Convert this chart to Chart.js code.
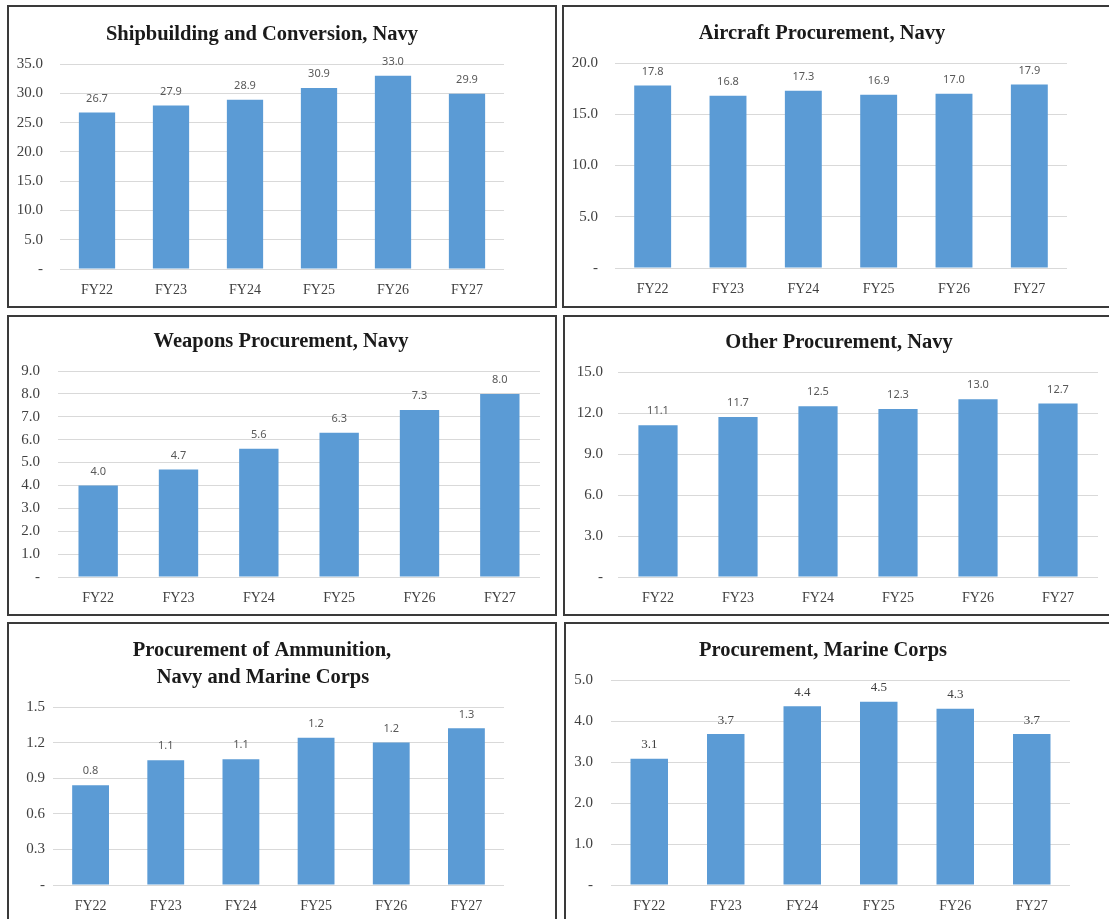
<!DOCTYPE html>
<html>
<head>
<meta charset="utf-8">
<script src="https://cdn.jsdelivr.net/npm/chart.js@4.4.0/dist/chart.umd.min.js"></script>
<style>
  html, body { margin: 0; padding: 0; background: #fff; }
  body { width: 1109px; height: 919px; overflow: hidden; position: relative; }
  .box { position: absolute; box-sizing: border-box; border: 2px solid #3a3a3a; background: #fff; }
  .box canvas { display: block; }
</style>
</head>
<body>
<div class="box" id="b1" style="left:7px;top:5px;width:550px;height:303px"><canvas id="c1" width="546" height="299"></canvas></div>
<div class="box" id="b2" style="left:562px;top:5px;width:560px;height:303px"><canvas id="c2" width="556" height="299"></canvas></div>
<div class="box" id="b3" style="left:7px;top:315px;width:550px;height:301px"><canvas id="c3" width="546" height="297"></canvas></div>
<div class="box" id="b4" style="left:563px;top:315px;width:560px;height:301px"><canvas id="c4" width="556" height="297"></canvas></div>
<div class="box" id="b5" style="left:7px;top:622px;width:550px;height:310px"><canvas id="c5" width="546" height="306"></canvas></div>
<div class="box" id="b6" style="left:564px;top:622px;width:560px;height:310px"><canvas id="c6" width="556" height="306"></canvas></div>
<script>
// fiscal years
const years = ['FY22', 'FY23', 'FY24', 'FY25', 'FY26', 'FY27'];

// $ billions
const shipbuilding = [26.7, 27.9, 28.9, 30.9, 33.0, 29.9];
const aircraft = [17.8, 16.8, 17.3, 16.9, 17.0, 17.9];
const weapons = [4.0, 4.7, 5.6, 6.3, 7.3, 8.0];
const otherProc = [11.1, 11.7, 12.5, 12.3, 13.0, 12.7];
const ammunition = [0.84, 1.051, 1.06, 1.24, 1.20, 1.32];
const marineCorps = [3.08, 3.68, 4.36, 4.47, 4.30, 3.68];

const titles = [
  ['Shipbuilding and Conversion, Navy'],
  ['Aircraft Procurement, Navy'],
  ['Weapons Procurement, Navy'],
  ['Other Procurement, Navy'],
  ['Procurement of Ammunition,', 'Navy and Marine Corps'],
  ['Procurement, Marine Corps']
];
const yMax = [35, 20, 9, 15, 1.5, 5];
const yStep = [5, 5, 1, 3, 0.3, 1];

const BLUE = '#5b9bd5';
const SERIF = '"Liberation Serif", "Times New Roman", serif';

// layout of each panel inside its canvas
const panels = [
  { id: 'c1', data: shipbuilding, area: [51, 495, 57, 262], tickPad: 17, title: [[253, 28]], lbl: 'sans' },
  { id: 'c2', data: aircraft, area: [51, 503, 56, 261], tickPad: 17, title: [[258, 27]], lbl: 'sans' },
  { id: 'c3', data: weapons, area: [49, 531, 54, 260], tickPad: 18, title: [[272, 25]], lbl: 'sans' },
  { id: 'c4', data: otherProc, area: [53, 533, 55, 260], tickPad: 15, title: [[274, 26]], lbl: 'sans' },
  { id: 'c5', data: ammunition, area: [44, 495, 83, 261], tickPad: 8, title: [[253, 27], [254, 54]], lbl: 'sans' },
  { id: 'c6', data: marineCorps, area: [45, 504, 56, 261], tickPad: 18, title: [[257, 27]], lbl: 'serif' }
];

const valueLabels = {
  id: 'valueLabels',
  afterDatasetsDraw(chart, args, opts) {
    const ctx = chart.ctx;
    const meta = chart.getDatasetMeta(0);
    ctx.save();
    ctx.font = opts.serif ? '13px ' + SERIF : '11px "Noto Sans", sans-serif';
    ctx.fillStyle = opts.serif ? '#404040' : '#595959';
    ctx.textAlign = 'center';
    ctx.textBaseline = 'middle';
    meta.data.forEach((bar, i) => {
      const v = chart.data.datasets[0].data[i];
      ctx.fillText(v.toFixed(1), bar.x, bar.y - 14);
    });
    ctx.restore();
  }
};

const panelTitle = {
  id: 'panelTitle',
  afterDraw(chart, args, opts) {
    const ctx = chart.ctx;
    ctx.save();
    ctx.font = 'bold 20.5px ' + SERIF;
    ctx.fillStyle = '#1a1a1a';
    ctx.textAlign = 'center';
    ctx.textBaseline = 'middle';
    opts.lines.forEach((t, i) => ctx.fillText(t, opts.pos[i][0], opts.pos[i][1]));
    ctx.restore();
  }
};

panels.forEach((p, k) => {
  const canvas = document.getElementById(p.id);
  const W = canvas.width, H = canvas.height;
  const [left, right, top, bottom] = p.area;
  new Chart(canvas, {
    type: 'bar',
    data: {
      labels: years,
      datasets: [{
        data: p.data,
        backgroundColor: BLUE,
        barPercentage: 0.49,
        categoryPercentage: 1
      }]
    },
    options: {
      responsive: false,
      animation: false,
      layout: { padding: { left: 0, right: W - right, top: top, bottom: 0 } },
      plugins: {
        legend: { display: false },
        tooltip: { enabled: false },
        valueLabels: { serif: p.lbl === 'serif' },
        panelTitle: { lines: titles[k], pos: p.title }
      },
      scales: {
        x: {
          grid: { display: false },
          border: { display: false },
          ticks: { color: '#404040', font: { family: SERIF, size: 14 }, padding: 5 },
          afterFit: s => { s.height = H - bottom; }
        },
        y: {
          min: 0,
          max: yMax[k],
          grid: { color: '#d9d9d9', lineWidth: 1, drawTicks: false },
          border: { display: false },
          ticks: {
            stepSize: yStep[k],
            color: '#404040',
            font: { family: SERIF, size: 15 },
            padding: p.tickPad,
            callback: v => (Math.abs(v) < 1e-9 ? '-' : Number(v).toFixed(1))
          },
          afterFit: s => { s.width = left; }
        }
      }
    },
    plugins: [valueLabels, panelTitle]
  });
});
</script>
</body>
</html>
